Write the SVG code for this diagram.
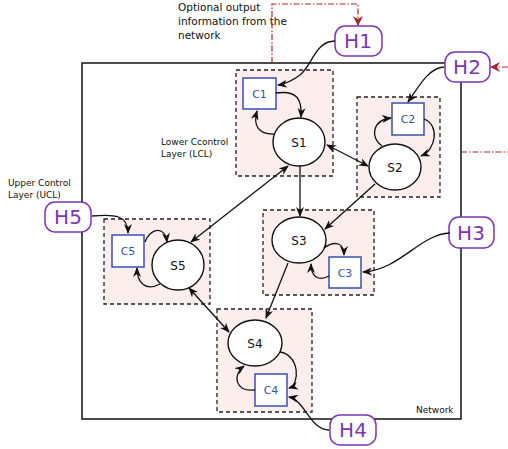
<svg xmlns="http://www.w3.org/2000/svg" width="508" height="449" viewBox="0 0 508 449">
<defs>
<marker id="ar" viewBox="0 0 10 8" refX="9" refY="4" markerWidth="10" markerHeight="8" markerUnits="userSpaceOnUse" orient="auto-start-reverse">
<path d="M0,0 L10,4 L0,8 L3,4 z" fill="#111"/>
</marker>
<marker id="rar" viewBox="0 0 10 10" refX="9" refY="5" markerWidth="10" markerHeight="10" markerUnits="userSpaceOnUse" orient="auto">
<path d="M0,0 L10,5 L0,10 L3,5 z" fill="#a52a2a"/>
</marker>
<style>
text{font-family:"DejaVu Sans","Liberation Sans",sans-serif;}
.lbl{font-size:9px;fill:#111;}
.h rect{fill:#fff;stroke:#7b35b5;stroke-width:1.5;}
.h text{font-size:20px;fill:#7b35b5;text-anchor:middle;}
.box{fill:#fdeeee;stroke:#222;stroke-width:1.3;stroke-dasharray:4,3;}
.c rect{fill:#fff;stroke:#3a4fb0;stroke-width:1.5;}
.c text{font-size:11px;fill:#3a4fb0;text-anchor:middle;}
.s ellipse{fill:#fff;stroke:#111;stroke-width:1.4;}
.s text{font-size:12px;fill:#111;text-anchor:middle;}
.con path{fill:none;stroke:#111;stroke-width:1.3;marker-end:url(#ar);}
.con path.both{marker-start:url(#ar);}
.red{fill:none;stroke:#a52a2a;stroke-width:1.2;stroke-dasharray:6,2,1.5,2;}
</style>
</defs>
<rect x="0" y="0" width="508" height="449" fill="#fff"/>
<g id="network">
<rect x="82" y="63" width="379" height="356" fill="none" stroke="#111" stroke-width="1.5"/>
<text class="lbl" x="416" y="413">Network</text>
</g>
<g id="labels">
<text x="178" y="11" style="font-size:10.5px;fill:#111">Optional output</text>
<text x="178" y="25" style="font-size:10.5px;fill:#111">information from the</text>
<text x="178" y="39" style="font-size:10.5px;fill:#111">network</text>
<text class="lbl" x="8" y="186">Upper Control</text>
<text class="lbl" x="8" y="198">Layer (UCL)</text>
<text class="lbl" x="161" y="145">Lower Ccontrol</text>
<text class="lbl" x="161" y="157">Layer (LCL)</text>
</g>
<g id="boxes">
<rect id="box1" class="box" x="236" y="70" width="97" height="106"/>
<rect id="box2" class="box" x="357" y="97" width="83" height="100"/>
<rect id="box3" class="box" x="263" y="210" width="111" height="85"/>
<rect id="box5" class="box" x="104" y="219" width="106" height="85"/>
<rect id="box4" class="box" x="217" y="309" width="95" height="103"/>
</g>
<g id="red-lines">
<path class="red" d="M272,63 V4 H358 V25" marker-end="url(#rar)"/>
<path class="red" d="M508,67 H491" marker-end="url(#rar)"/>
<path class="red" d="M461,152 H508"/>
</g>
<g id="H1" class="h"><rect x="335" y="26" width="47" height="30" rx="10"/><text x="358" y="48">H1</text></g>
<g id="H2" class="h"><rect x="445" y="52" width="45" height="30" rx="10"/><text x="467" y="74">H2</text></g>
<g id="H3" class="h"><rect x="449" y="217" width="45" height="31" rx="10"/><text x="471" y="240">H3</text></g>
<g id="H4" class="h"><rect x="330" y="415" width="46" height="30" rx="10"/><text x="353" y="437">H4</text></g>
<g id="H5" class="h"><rect x="45" y="202" width="46" height="30" rx="10"/><text x="68" y="224">H5</text></g>
<g id="C1" class="c"><rect x="243" y="78" width="33" height="31"/><text x="259.5" y="97.5">C1</text></g>
<g id="C2" class="c"><rect x="392" y="103" width="32" height="32"/><text x="408" y="123">C2</text></g>
<g id="C3" class="c"><rect x="329" y="257" width="32" height="31"/><text x="345" y="276.5">C3</text></g>
<g id="C4" class="c"><rect x="255" y="374" width="32" height="32"/><text x="271" y="394">C4</text></g>
<g id="C5" class="c"><rect x="112" y="235" width="32" height="32"/><text x="128" y="255">C5</text></g>
<g id="S1" class="s"><ellipse cx="299" cy="142" rx="26" ry="24"/><text x="299" y="146.5">S1</text></g>
<g id="S2" class="s"><ellipse cx="395" cy="167" rx="26" ry="23"/><text x="395" y="171.5">S2</text></g>
<g id="S3" class="s"><ellipse cx="299" cy="240" rx="27" ry="23"/><text x="299" y="244.5">S3</text></g>
<g id="S4" class="s"><ellipse cx="255" cy="343" rx="27" ry="23"/><text x="255" y="347.5">S4</text></g>
<g id="S5" class="s"><ellipse cx="178" cy="265" rx="26" ry="25"/><text x="178" y="269.5">S5</text></g>
<g id="connectors" class="con">
<path d="M335,41 C315,41 312,66 300,75 C292,81 285,84 278,85"/>
<path d="M276,93 C298,90 302,100 301,117"/>
<path d="M275,134 C258,135 253,125 257,111"/>
<path class="both" d="M327,145 L368,166"/>
<path d="M300,166 L300,216"/>
<path d="M375,184 L325,229"/>
<path class="both" d="M288,166 L191,242"/>
<path class="both" d="M189,288 L229,332"/>
<path d="M288,263 L266,318"/>
<path d="M324,248 C335,240 344,243 344,255"/>
<path d="M329,276 C318,282 311,276 311,264"/>
<path d="M450,233 C420,234 400,270 363,272"/>
<path d="M444,67 C428,68 418,88 408,102"/>
<path d="M424,119 C440,125 436,150 421,156"/>
<path d="M382,146 C370,138 372,120 391,118"/>
<path d="M92,216 C115,214 128,215 128,233"/>
<path d="M145,242 C150,228 165,225 167,242"/>
<path d="M160,284 C145,292 137,282 137,268"/>
<path d="M280,352 C300,355 300,385 289,388"/>
<path d="M255,390 C235,392 232,375 244,366"/>
<path d="M329,430 C310,430 305,400 289,397"/>
</g>
</svg>
